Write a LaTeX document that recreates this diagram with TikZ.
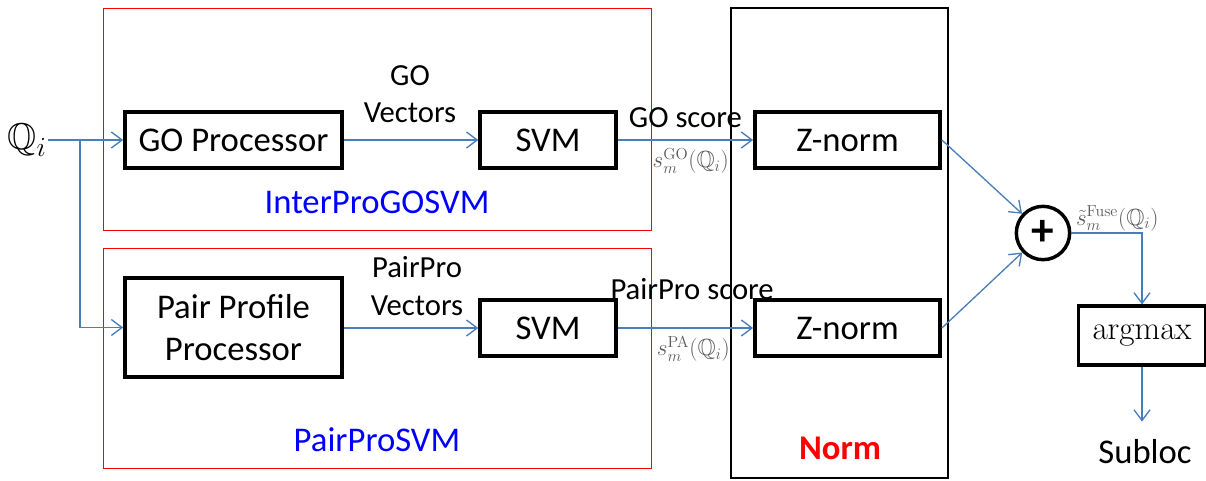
\documentclass[tikz,border=0pt]{standalone}
\usepackage{amsmath,amssymb}
\usepackage[no-math]{fontspec}
\setmainfont{Carlito}
\usetikzlibrary{arrows.meta}

\definecolor{flowblue}{RGB}{74,126,187}
\definecolor{labelgrey}{RGB}{90,90,90}

\tikzset{
  block/.style={draw=black, line width=2.6pt, inner sep=0pt, font=\fontsize{26}{31}\selectfont, align=center},
  group/.style={draw=red, line width=0.75pt},
  flow/.style={draw=flowblue, line width=1pt, -{Straight Barb[length=8pt,width=12pt,line width=1pt]}},
  txt/.style={font=\fontsize{26}{31}\selectfont, align=center, inner sep=1pt},
  arrtxt/.style={font=\fontsize{23}{28}\selectfont, align=center, inner sep=1pt},
  score/.style={text=labelgrey, font=\fontsize{17.5}{20}\selectfont, inner sep=1pt}
}

\begin{document}
\begin{tikzpicture}[x=0.75pt,y=0.75pt,yscale=-1]
\useasboundingbox (0,0) rectangle (1206,480);

%Groups
\draw [group] (103,8) rectangle (651,230);
\draw [group] (103,248) rectangle (651,468);
\draw [line width=1pt] (731,8) rectangle (948,478);
\node [txt, text=blue] (gosvm) at (377,202) {InterProGOSVM};
\node [txt, text=blue] (ppsvm) at (377,440) {PairProSVM};
\node [txt, text=red, font=\fontsize{26}{30}\selectfont\bfseries] (norm) at (840,448) {Norm};

%Input
\node [inner sep=1pt, font=\fontsize{28}{32}\selectfont] (qi) at (27,140) {$\mathbb{Q}_i$};
\coordinate (split) at (80,140);

%Blocks
\node [block, minimum width=163pt, minimum height=42pt] (gop) at (233.5,140) {GO Processor};
\node [block, minimum width=102pt, minimum height=42pt] (svma) at (548,140) {SVM};
\node [block, minimum width=139pt, minimum height=42pt] (zna) at (847.5,140) {Z-norm};
\node [block, minimum width=163pt, minimum height=74pt] (ppp) at (233.5,327.5) {Pair Profile\\Processor};
\node [block, minimum width=102pt, minimum height=42pt] (svmb) at (548,328) {SVM};
\node [block, minimum width=139pt, minimum height=42pt] (znb) at (847.5,328) {Z-norm};
\node [draw, circle, line width=2.6pt, minimum size=40pt, inner sep=0pt, font=\fontsize{34}{34}\selectfont\bfseries] (plus) at (1043,233) {+};
\node [block, minimum width=95pt, minimum height=44pt, font=\fontsize{26}{30}\selectfont] (argmax) at (1142,335.5) {$\mathrm{argmax}$};
\node [txt] (subloc) at (1145,452) {Subloc};

%Vector labels
\node [arrtxt] (govec) at (410,94) {GO\\Vectors};
\node [arrtxt] (ppvec) at (417,286) {PairPro\\Vectors};

%Connectors
\draw [flow] (qi.east) -- (gop.west);
\draw [flow] (split) |- (ppp.west);
\draw [flow] (gop.east) -- (svma.west);
\draw [flow] (ppp.east |- svmb.west) -- (svmb.west);
\draw [flow] (svma.east) -- (zna.west)
  node [midway, above=8pt, arrtxt] {GO score}
  node [midway, below=5pt, score, xshift=4pt] {$s_m^{\mathrm{GO}}(\mathbb{Q}_i)$};
\draw [flow] (svmb.east) -- (znb.west)
  node [midway, above=20pt, arrtxt, xshift=5pt] {PairPro score}
  node [midway, below=5pt, score, xshift=6pt] {$s_m^{\mathrm{PA}}(\mathbb{Q}_i)$};
\draw [flow] (zna.east) -- (plus);
\draw [flow] (znb.east) -- (plus);
\draw [flow] (plus.east) -| (argmax.north)
  node [pos=0, anchor=south west, score, xshift=2pt] {$\tilde{s}_m^{\mathrm{Fuse}}(\mathbb{Q}_i)$};
\draw [flow] (argmax.south) -- ++(0,55);
\end{tikzpicture}
\end{document}
